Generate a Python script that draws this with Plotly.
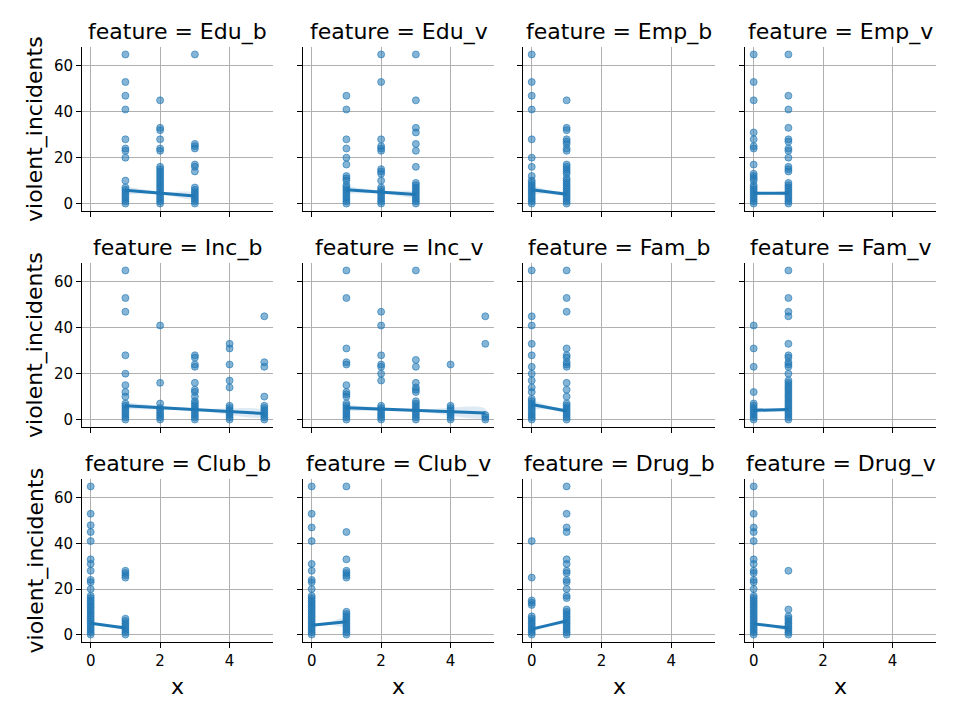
import plotly.graph_objects as go

FEATURES = ["Edu_b", "Edu_v", "Emp_b", "Emp_v",
            "Inc_b", "Inc_v", "Fam_b", "Fam_v",
            "Club_b", "Club_v", "Drug_b", "Drug_v"]

# violent_incidents values seen at each x level (per feature)
EDU_B = {1: [65, 53, 47, 41, 28, 24, 23, 20, 10, 7, 6, 5, 4, 3, 2, 1, 0],
         2: [45, 33, 32, 28, 24, 23, 16, 15, 14, 13, 12, 11, 10, 9, 8, 7, 6, 5, 4, 3, 2, 1, 0],
         3: [65, 26, 25, 24, 17, 16, 14, 7, 6, 5, 4, 3, 2, 1, 0]}
EDU_V = {1: [47, 41, 28, 24, 20, 17, 12, 11, 10, 8, 7, 6, 5, 4, 3, 2, 1, 0],
         2: [65, 53, 28, 25, 24, 23, 15, 14, 13, 10, 7, 6, 5, 4, 3, 2, 1, 0],
         3: [65, 45, 33, 31, 26, 23, 16, 9, 8, 7, 6, 5, 4, 3, 2, 1, 0]}
EMP_B = {0: [65, 53, 47, 41, 28, 20, 16, 12, 10, 9, 8, 7, 6, 5, 4, 3, 2, 1, 0],
         1: [45, 33, 32, 28, 27, 26, 24, 23, 17, 16, 15, 14, 13, 11, 10, 9, 8, 7, 6, 5, 4, 3, 2, 1, 0]}
EMP_V = {0: [65, 53, 45, 31, 28, 25, 24, 17, 13, 12, 11, 10, 8, 7, 6, 5, 4, 3, 2, 1, 0],
         1: [65, 47, 41, 33, 28, 27, 24, 23, 20, 16, 15, 14, 9, 8, 7, 6, 5, 4, 3, 2, 1, 0]}
INC_B = {1: [65, 53, 47, 28, 20, 15, 12, 10, 7, 6, 5, 4, 3, 2, 1, 0],
         2: [41, 16, 7, 5, 4, 3, 2, 1, 0],
         3: [28, 27, 24, 23, 16, 13, 12, 10, 8, 7, 6, 5, 4, 3, 2, 1, 0],
         4: [33, 31, 24, 17, 14, 6, 5, 4, 3, 2, 1, 0],
         5: [45, 25, 23, 10, 6, 5, 4, 3, 2, 1, 0]}
INC_V = {1: [65, 53, 31, 25, 24, 15, 12, 11, 10, 7, 6, 5, 4, 3, 2, 1, 0],
         2: [47, 41, 28, 24, 23, 20, 17, 6, 5, 4, 3, 2, 1, 0],
         3: [65, 26, 23, 16, 14, 13, 12, 8, 7, 6, 5, 4, 3, 2, 1, 0],
         4: [24, 6, 5, 4, 3, 2, 1, 0],
         5: [45, 33, 2, 1, 0]}
FAM_B = {0: [65, 45, 41, 33, 28, 23, 20, 17, 14, 12, 9, 8, 7, 6, 5, 4, 3, 2, 1, 0],
         1: [65, 53, 47, 31, 28, 27, 25, 24, 23, 16, 13, 10, 7, 6, 5, 4, 3, 2, 1, 0]}
FAM_V = {0: [41, 31, 23, 12, 7, 6, 5, 4, 3, 2, 1, 0],
         1: [65, 53, 47, 45, 33, 28, 27, 25, 24, 23, 20, 17, 16, 15, 14, 13, 12, 11, 10, 9, 8, 7, 6, 5, 4, 3, 2, 1, 0]}
CLUB_B = {0: [65, 53, 48, 45, 41, 33, 31, 28, 24, 23, 20, 17, 16, 15, 14, 13, 12, 11, 10, 9, 8, 7, 6, 5, 4, 3, 2, 1, 0],
          1: [28, 27, 26, 25, 7, 6, 5, 4, 3, 2, 1, 0]}
CLUB_V = {0: [65, 53, 47, 41, 31, 28, 24, 23, 20, 17, 16, 15, 14, 13, 12, 11, 10, 9, 8, 7, 6, 5, 4, 3, 2, 1, 0],
          1: [65, 45, 33, 28, 27, 26, 25, 10, 9, 8, 7, 6, 5, 4, 3, 2, 1, 0]}
DRUG_B = {0: [41, 25, 15, 14, 13, 8, 7, 6, 5, 4, 3, 2, 1, 0],
          1: [65, 53, 47, 45, 33, 31, 28, 27, 24, 23, 20, 17, 16, 11, 10, 9, 8, 7, 6, 5, 4, 3, 2, 1, 0]}
DRUG_V = {0: [65, 53, 47, 45, 41, 33, 31, 28, 27, 24, 23, 20, 17, 16, 15, 14, 13, 12, 11, 10, 9, 8, 7, 6, 5, 4, 3, 2, 1, 0],
          1: [28, 11, 8, 7, 6, 5, 4, 3, 2, 1, 0]}

PANELS = [EDU_B, EDU_V, EMP_B, EMP_V, INC_B, INC_V, FAM_B, FAM_V, CLUB_B, CLUB_V, DRUG_B, DRUG_V]

# regression fit: value at min x and at max x
FIT_START = [5.8, 6.0, 6.0, 4.5, 6.0, 5.1, 6.6, 4.0, 5.0, 4.1, 2.4, 4.7]
FIT_END = [3.3, 3.9, 4.1, 4.5, 2.6, 2.9, 3.7, 4.4, 2.9, 5.6, 6.0, 2.9]
# confidence band half-width at start, middle, end
CI_START = [1.7, 1.6, 2.0, 0.7, 1.5, 1.4, 2.0, 1.2, 0.6, 0.6, 1.0, 0.6]
CI_MID = [0.6, 0.6, 0.8, 0.5, 0.5, 0.5, 0.8, 0.6, 0.4, 0.6, 0.6, 0.5]
CI_END = [1.2, 1.0, 0.6, 0.7, 1.3, 1.8, 0.6, 0.5, 0.7, 1.8, 0.7, 1.0]

X_TICKS = [0, 2, 4]
Y_TICKS = [0, 20, 40, 60]

W, H = 960, 719
COL_PX = [(82, 273), (303, 494), (523, 715), (745, 936)]
ROW_PX = [(47, 211), (263, 427), (479, 642)]
BLUE = "#1f77b4"
FONT = "DejaVu Sans"

fig = go.Figure()
annotations = []

for i, (feat, pts) in enumerate(zip(FEATURES, PANELS)):
    r, c = divmod(i, 4)
    n = i + 1
    xa = "x" if n == 1 else f"x{n}"
    ya = "y" if n == 1 else f"y{n}"
    xs, ys = [], []
    for xv, vals in pts.items():
        for v in vals:
            xs.append(xv)
            ys.append(v)
    x0, x1 = min(pts), max(pts)
    xm = (x0 + x1) / 2
    fm = (FIT_START[i] + FIT_END[i]) / 2
    bx = [x0, xm, x1]
    upper = [FIT_START[i] + CI_START[i], fm + CI_MID[i], FIT_END[i] + CI_END[i]]
    lower = [FIT_START[i] - CI_START[i], fm - CI_MID[i], FIT_END[i] - CI_END[i]]

    fig.add_trace(go.Scatter(x=xs, y=ys, mode="markers", xaxis=xa, yaxis=ya,
                             marker=dict(size=7, color="rgba(31,119,180,0.55)",
                                         line=dict(color="rgba(31,119,180,0.6)", width=1)),
                             showlegend=False, hoverinfo="skip"))
    fig.add_trace(go.Scatter(x=bx + bx[::-1], y=upper + lower[::-1], xaxis=xa, yaxis=ya,
                             fill="toself", fillcolor="rgba(31,119,180,0.15)",
                             line=dict(width=0, shape="spline"), mode="lines",
                             showlegend=False, hoverinfo="skip"))
    fig.add_trace(go.Scatter(x=[x0, x1], y=[FIT_START[i], FIT_END[i]], mode="lines",
                             xaxis=xa, yaxis=ya, line=dict(color=BLUE, width=3),
                             showlegend=False, hoverinfo="skip"))

    (l, rr), (t, b) = COL_PX[c], ROW_PX[r]
    axcommon = dict(showgrid=True, gridcolor="#b0b0b0", gridwidth=1, zeroline=False,
                    showline=True, linecolor="black", linewidth=1, automargin=False,
                    ticks="outside", ticklen=5, tickwidth=1, tickcolor="black",
                    tickfont=dict(family=FONT, size=15, color="black"))
    fig.layout[f"xaxis{'' if n == 1 else n}"] = dict(
        domain=[l / W, rr / W], anchor=ya, range=[-0.25, 5.25], tickvals=X_TICKS,
        showticklabels=(r == 2), **axcommon)
    fig.layout[f"yaxis{'' if n == 1 else n}"] = dict(
        domain=[1 - b / H, 1 - t / H], anchor=xa, range=[-3.25, 68.25], tickvals=Y_TICKS,
        showticklabels=(c == 0), **axcommon)

    annotations.append(dict(text=f"feature = {feat}", x=(l + rr) / 2 / W, y=1 - t / H,
                            xref="paper", yref="paper", xanchor="center", yanchor="bottom",
                            yshift=0, showarrow=False,
                            font=dict(family=FONT, size=22, color="black")))
    if c == 0:
        annotations.append(dict(text="violent_incidents", x=35 / W, y=1 - (t + b) / 2 / H,
                                xref="paper", yref="paper", xanchor="center", yanchor="middle",
                                textangle=-90, showarrow=False,
                                font=dict(family=FONT, size=22, color="black")))
    if r == 2:
        annotations.append(dict(text="x", x=(l + rr) / 2 / W, y=1 - 686 / H,
                                xref="paper", yref="paper", xanchor="center", yanchor="middle",
                                showarrow=False,
                                font=dict(family=FONT, size=22, color="black")))

fig.update_layout(width=W, height=H, margin=dict(l=0, r=0, t=0, b=0, autoexpand=False),
                  plot_bgcolor="white", paper_bgcolor="white",
                  annotations=annotations, font=dict(family=FONT))

fig.write_html("out.html", config={"displayModeBar": False},
               post_script="document.body.style.margin='0px';document.body.style.overflow='hidden';")
